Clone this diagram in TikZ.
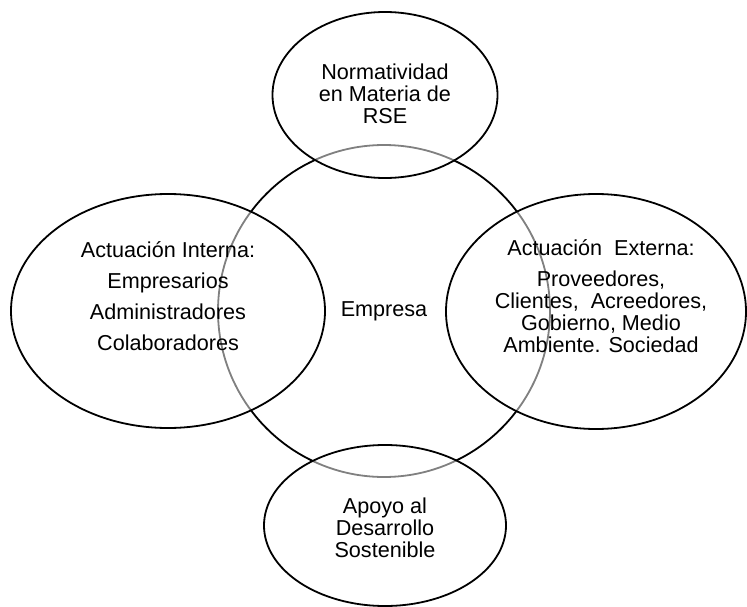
\documentclass[tikz,border=0pt]{standalone}
\usepackage{fontspec}
\setmainfont{Liberation Sans}
\usetikzlibrary{shapes.geometric}
\begin{document}
\begin{tikzpicture}[x=1pt,y=-1pt,
  ring/.style={ellipse,draw=black,line width=1.8pt,fill=white,fill opacity=0.5,inner sep=0pt},
  txt/.style={align=center,font=\fontsize{21.6}{22}\selectfont,text opacity=1,inner sep=0pt}]
\useasboundingbox (0,0) rectangle (747,607);
\node[circle,draw=black,line width=1.8pt,minimum size=332pt,inner sep=0pt] (emp) at (384,311) {};
\node[ring,minimum width=225pt,minimum height=166pt] (top) at (385,95) {};
\node[ring,minimum width=314pt,minimum height=234pt] (left) at (168,311) {};
\node[ring,minimum width=300pt,minimum height=235pt] (right) at (596,311.5) {};
\node[ring,minimum width=242pt,minimum height=161pt] (bot) at (385,525.5) {};
\node[txt] (ttop) at (385,94) {Normatividad\\en Materia de\\RSE};
\node[txt] (tbot) at (385,528) {Apoyo al\\Desarrollo\\Sostenible};
\node[txt] (tleft) at (168,296) {Actuación Interna:\\[9pt]Empresarios\\[9pt]Administradores\\[9pt]Colaboradores};
\node[txt] (tright) at (601,296) {Actuación\ \ Externa:\\[9pt]Proveedores,\hspace{12pt}\\Clientes,\ \ Acreedores,\\Gobierno, Medio\\Ambiente. Sociedad};
\node[txt] (temp) at (384,311) {Empresa};
\end{tikzpicture}
\end{document}
